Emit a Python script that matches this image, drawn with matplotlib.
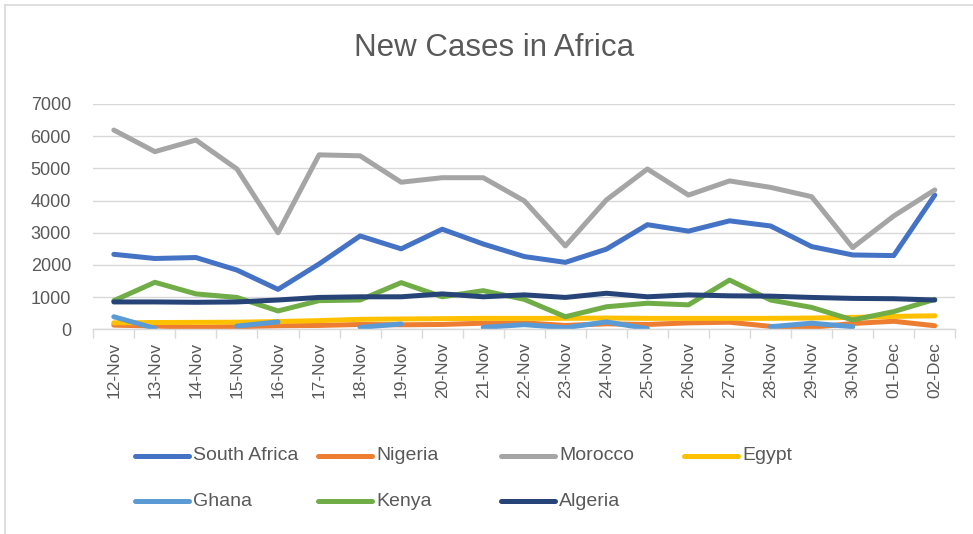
import numpy as np
import matplotlib
matplotlib.use("Agg")
import matplotlib.pyplot as plt
from matplotlib.lines import Line2D

plt.rcParams['font.family'] = ['Liberation Sans', 'DejaVu Sans']

dates = ["12-Nov", "13-Nov", "14-Nov", "15-Nov", "16-Nov", "17-Nov", "18-Nov",
         "19-Nov", "20-Nov", "21-Nov", "22-Nov", "23-Nov", "24-Nov", "25-Nov",
         "26-Nov", "27-Nov", "28-Nov", "29-Nov", "30-Nov", "01-Dec", "02-Dec"]

south_africa = [2330, 2200, 2230, 1840, 1240, 2030, 2900, 2500, 3110, 2650, 2260,
                2080, 2490, 3250, 3050, 3370, 3210, 2570, 2310, 2290, 4170]
nigeria = [130, 100, 60, 80, 110, 120, 150, 140, 150, 190, 200,
           120, 170, 150, 200, 220, 90, 60, 180, 250, 110]
morocco = [6190, 5520, 5880, 4980, 3000, 5420, 5390, 4570, 4710, 4710, 3990,
           2590, 4020, 4980, 4170, 4610, 4410, 4120, 2540, 3520, 4330]
egypt = [200, 210, 215, 220, 240, 270, 310, 320, 330, 340, 340,
         340, 350, 340, 340, 340, 340, 350, 370, 400, 420]
ghana = [390, 30, np.nan, 100, 230, np.nan, 60, 165, np.nan, 60, 145,
         50, 230, 20, np.nan, np.nan, 80, 190, 80, np.nan, np.nan]
kenya = [890, 1460, 1100, 990, 570, 890, 910, 1450, 1010, 1200, 930,
         390, 700, 810, 760, 1530, 910, 680, 290, 550, 930]
algeria = [850, 850, 840, 850, 910, 990, 1010, 1010, 1100, 1010, 1070,
           990, 1120, 1010, 1070, 1040, 1030, 990, 960, 950, 910]

series_names = ["South Africa", "Nigeria", "Morocco", "Egypt", "Ghana", "Kenya", "Algeria"]
series_values = [south_africa, nigeria, morocco, egypt, ghana, kenya, algeria]
colors = ["#4472C4", "#ED7D31", "#A5A5A5", "#FFC000", "#5B9BD5", "#70AD47", "#264478"]
yticks = [0, 1000, 2000, 3000, 4000, 5000, 6000, 7000]

W, H = 973, 534
fig = plt.figure(figsize=(W / 100, H / 100), dpi=100)
ax = fig.add_axes([93.3 / W, 1 - 329.3 / H, (955.3 - 93.3) / W, (329.3 - 104) / H])

x = np.arange(len(dates))
lw = 3.6
for name, vals, c in zip(series_names, series_values, colors):
    ax.plot(x, vals, color=c, lw=lw, solid_capstyle='round', solid_joinstyle='round', label=name)

ax.set_xlim(-0.5, len(dates) - 0.5)
ax.set_ylim(0, 7000)
ax.set_yticks(yticks)
ax.set_yticklabels([str(v) for v in yticks])
ax.set_xticks(x)
ax.set_xticklabels(dates, rotation=90)
ax.set_xticks(np.arange(-0.5, len(dates), 1.0), minor=True)

grid_c = "#D9D9D9"
ax.grid(axis='y', color=grid_c, lw=1.0)
ax.set_axisbelow(True)
for s in ['top', 'right', 'left']:
    ax.spines[s].set_visible(False)
ax.spines['bottom'].set_color(grid_c)
ax.spines['bottom'].set_linewidth(1.0)
ax.tick_params(axis='y', length=0, pad=16, labelsize=13, labelcolor="#595959")
ax.tick_params(axis='x', which='major', length=0, pad=9, labelsize=12.5, labelcolor="#595959")
ax.tick_params(axis='x', which='minor', length=6.5, color=grid_c, width=1.0)

fig.text(494 / W, 1 - 48 / H, "New Cases in Africa", ha='center', va='center',
         fontsize=22.5, color="#595959")

# legend (manual, Excel-like fixed columns)
col_x = [135, 318, 501, 684]
row_y = [456, 501]
for i, (name, c) in enumerate(zip(series_names, colors)):
    r, k = divmod(i, 4)
    x0 = col_x[k]
    y0 = row_y[r]
    fig.add_artist(Line2D([x0 / W, (x0 + 54) / W], [1 - y0 / H, 1 - y0 / H],
                          color=c, lw=lw, solid_capstyle='round', transform=fig.transFigure))
    fig.text((x0 + 58) / W, 1 - y0 / H, name, ha='left', va='center',
             fontsize=14, color="#595959")

# chart border (top and left visible)
fig.add_artist(Line2D([5 / W, 1.0], [1 - 5 / H, 1 - 5 / H], color=grid_c, lw=1.2,
                      transform=fig.transFigure))
fig.add_artist(Line2D([5 / W, 5 / W], [0, 1 - 5 / H], color=grid_c, lw=1.2,
                      transform=fig.transFigure))

fig.savefig("out.png", dpi=100)
